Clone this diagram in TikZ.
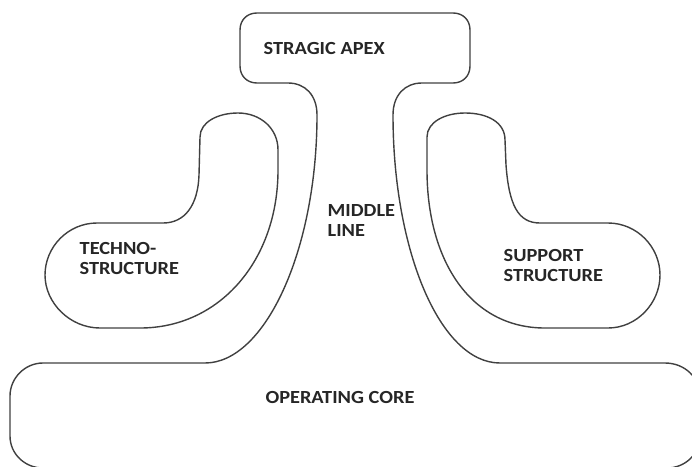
\documentclass[tikz,border=0pt]{standalone}
\usepackage{fontspec}
\newfontfamily\lblfont{Carlito}[BoldFont=* Bold, FakeStretch=1.1]
\begin{document}
\begin{tikzpicture}[x=1pt, y=-1pt, line width=1.4pt,
  part/.style={draw=black!75, line join=round},
  lbl/.style={font=\lblfont\bfseries\fontsize{18.5}{20}\selectfont, text=black!85, align=left, inner sep=0pt}]
\useasboundingbox (0,0) rectangle (692,466);
\clip (0,0) rectangle (692,466);
% apex, middle line and operating core in one outline
\draw[part] (257,13) -- (453,13) .. controls (463,13) and (470,20) .. (470,30)
  -- (470,66) .. controls (470,76) and (463,83) .. (453,83)
  -- (422,83) .. controls (405,83) and (393,95) .. (393,115)
  .. controls (393,250) and (440,363) .. (500,363)
  -- (665,363) .. controls (685,363) and (700,378) .. (700,396)
  -- (700,436) .. controls (700,454) and (685,468) .. (667,468)
  -- (43,468) .. controls (25,468) and (10,454) .. (10,436)
  -- (10,396) .. controls (10,378) and (25,363) .. (43,363)
  -- (205,363) .. controls (265,363) and (317,250) .. (317,115)
  .. controls (317,95) and (305,83) .. (288,83)
  -- (257,83) .. controls (247,83) and (240,76) .. (240,66)
  -- (240,30) .. controls (240,20) and (247,13) .. (257,13) -- cycle;
% techno-structure
\draw[part] (200,137) .. controls (200,122) and (218,113) .. (238,113)
  .. controls (260,113) and (278,128) .. (278,150)
  -- (278,170) .. controls (278,260) and (220,328) .. (140,328)
  -- (100,328) .. controls (70,328) and (45,303) .. (45,275)
  .. controls (45,247) and (68,223) .. (97,223)
  -- (163,223) .. controls (185,223) and (198,205) .. (199,175) -- cycle;
% support structure
\draw[part] (427,137) .. controls (427,122) and (445,113) .. (465,113)
  .. controls (487,113) and (505,122) .. (505,140)
  -- (506,165) .. controls (509,205) and (518,223) .. (540,223)
  -- (608,223) .. controls (637,223) and (660,247) .. (660,275)
  .. controls (660,303) and (637,328) .. (608,328)
  -- (545,328) .. controls (470,328) and (427,260) .. (427,170) -- cycle;
\node[lbl, anchor=west] (apex) at (263,48) {STRAGIC APEX};
\node[lbl, anchor=west] (middle) at (327,220) {MIDDLE\\LINE};
\node[lbl, anchor=west] (techno) at (79,258) {TECHNO-\\STRUCTURE};
\node[lbl, anchor=west] (support) at (503,265) {SUPPORT\\STRUCTURE};
\node[lbl] (core) at (340,397) {OPERATING CORE};
\end{tikzpicture}
\end{document}
